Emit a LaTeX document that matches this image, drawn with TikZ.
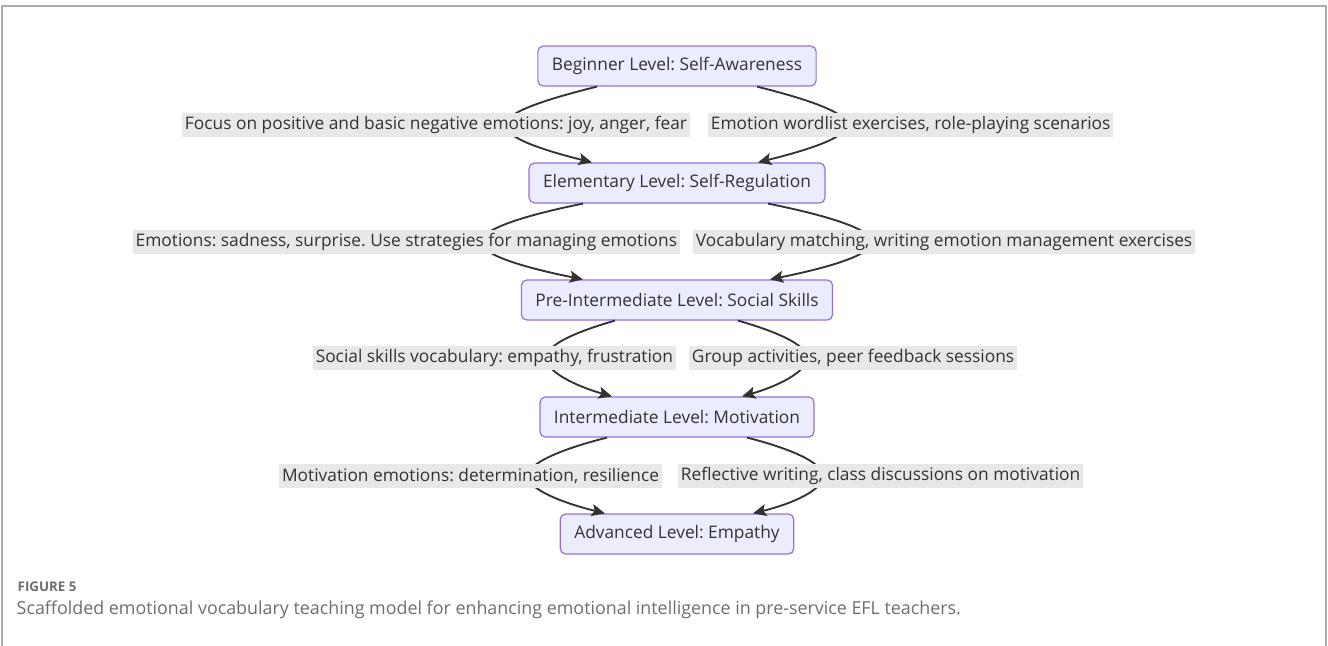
\documentclass[tikz,border=0pt]{standalone}
\usepackage{fontspec}
\setmainfont{Open Sans}
\usetikzlibrary{arrows.meta,calc}
\frenchspacing
\definecolor{lvlfill}{HTML}{ECECFF}
\definecolor{lvldraw}{HTML}{9370DB}
\definecolor{ink}{HTML}{333333}
\definecolor{lblfill}{HTML}{E8E8E8}
\definecolor{framec}{HTML}{AAAAAA}
\definecolor{capc}{HTML}{6E6E6E}
\tikzset{
  lvl/.style={draw=lvldraw, fill=lvlfill, line width=0.9pt, rounded corners=4pt,
    minimum height=30pt, inner xsep=10.5pt, text=ink, font=\fontsize{13}{15}\selectfont},
  lbl/.style={fill=lblfill, inner xsep=2pt, inner ysep=0pt, minimum height=18pt,
    text=ink, font=\fontsize{13}{15}\selectfont},
  flow/.style={draw=ink, line width=1.4pt, -{Stealth[length=10pt,width=9pt,inset=2pt]}},
}
\begin{document}
\begin{tikzpicture}[x=0.75pt,y=-0.75pt]
\useasboundingbox (0,0) rectangle (1328,646);
% outer frame, open at the bottom
\draw[framec, line width=1.1pt] (2,646) -- (2,6) -- (1326,6) -- (1326,646);

% levels
\node[lvl] (n1) at (677,66)  {Beginner Level: Self-Awareness};
\node[lvl] (n2) at (677,183) {Elementary Level: Self-Regulation};
\node[lvl] (n3) at (677,300) {Pre-Intermediate Level: Social Skills};
\node[lvl] (n4) at (677,417) {Intermediate Level: Motivation};
\node[lvl] (n5) at (677,534) {Advanced Level: Empathy};

% bend points of the connectors (hidden under the labels)
\coordinate (w1l) at (505,125); \coordinate (w1r) at (847,125);
\coordinate (w2l) at (481,242); \coordinate (w2r) at (872,242);
\coordinate (w3l) at (546,358); \coordinate (w3r) at (807,358);
\coordinate (w4l) at (528,476); \coordinate (w4r) at (823,476);

% connectors
\draw[flow] ($(n1.south)+(-80,0)$) .. controls +(-40,10) and +(0,-14) .. (w1l)
  .. controls +(0,14) and +(-40,-10) .. ($(n2.north)+(-85,0)$);
\draw[flow] ($(n1.south)+(80,0)$) .. controls +(40,10) and +(0,-14) .. (w1r)
  .. controls +(0,14) and +(40,-10) .. ($(n2.north)+(81,0)$);
\draw[flow] ($(n2.south)+(-94,0)$) .. controls +(-50,10) and +(0,-14) .. (w2l)
  .. controls +(0,14) and +(-50,-10) .. ($(n3.north)+(-94,0)$);
\draw[flow] ($(n2.south)+(91,0)$) .. controls +(50,10) and +(0,-14) .. (w2r)
  .. controls +(0,14) and +(50,-10) .. ($(n3.north)+(93,0)$);
\draw[flow] ($(n3.south)+(-62,0)$) .. controls +(-35,10) and +(0,-14) .. (w3l)
  .. controls +(0,14) and +(-35,-10) .. ($(n4.north)+(-65,0)$);
\draw[flow] ($(n3.south)+(61,0)$) .. controls +(35,10) and +(0,-14) .. (w3r)
  .. controls +(0,14) and +(35,-10) .. ($(n4.north)+(65,0)$);
\draw[flow] ($(n4.south)+(-70,0)$) .. controls +(-40,10) and +(0,-14) .. (w4l)
  .. controls +(0,14) and +(-40,-10) .. ($(n5.north)+(-72,0)$);
\draw[flow] ($(n4.south)+(70,0)$) .. controls +(40,10) and +(0,-14) .. (w4r)
  .. controls +(0,14) and +(40,-10) .. ($(n5.north)+(76,0)$);

% connector labels
\node[lbl, anchor=east] (l1l) at (690,125) {Focus on positive and basic negative emotions: joy, anger, fear};
\node[lbl, anchor=west] (l1r) at (708,125) {Emotion wordlist exercises, role-playing scenarios};
\node[lbl, anchor=east] (l2l) at (680,242) {Emotions: sadness, surprise. Use strategies for managing emotions};
\node[lbl, anchor=west] (l2r) at (693,242) {Vocabulary matching, writing emotion management exercises};
\node[lbl, anchor=east] (l3l) at (676,358) {Social skills vocabulary: empathy, frustration};
\node[lbl, anchor=west] (l3r) at (689,358) {Group activities, peer feedback sessions};
\node[lbl, anchor=east] (l4l) at (662,476) {Motivation emotions: determination, resilience};
\node[lbl, anchor=west] (l4r) at (678,476) {Reflective writing, class discussions on motivation};

% caption
\node[anchor=west, text=capc, font=\fontsize{10}{12}\selectfont\bfseries] (fig) at (13,587) {FIGURE 5};
\node[anchor=west, text=capc, font=\fontsize{13.4}{16}\selectfont] (cap) at (12,610)
  {Scaffolded emotional vocabulary teaching model for enhancing emotional intelligence in pre-service EFL teachers.};
\end{tikzpicture}
\end{document}
